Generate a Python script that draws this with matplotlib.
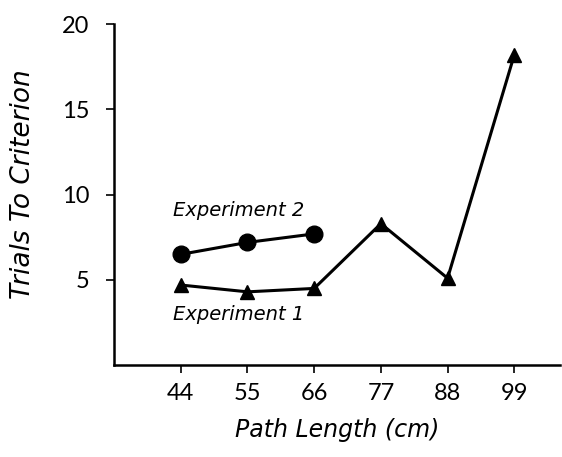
import matplotlib
matplotlib.use("Agg")
import matplotlib.pyplot as plt

path_length = [44, 55, 66, 77, 88, 99]
exp1_trials = [4.7, 4.3, 4.5, 8.3, 5.1, 18.2]
exp2_length = [44, 55, 66]
exp2_trials = [6.5, 7.2, 7.7]
y_ticks = [5, 10, 15, 20]

fig = plt.figure(figsize=(5.62, 4.57), dpi=100)
ax = fig.add_axes([0.203, 0.201, 0.793, 0.746])

ax.plot(path_length, exp1_trials, color="black", lw=2.2, marker="^", markersize=10)
ax.plot(exp2_length, exp2_trials, color="black", lw=2.2, marker="o", markersize=12)

ax.text(42.7, 9.1, "Experiment 2", fontsize=14, style="italic", ha="left", va="center")
ax.text(42.7, 3.0, "Experiment 1", fontsize=14, style="italic", ha="left", va="center")

ax.set_xlim(33, 106.5)
ax.set_ylim(0, 20)
ax.set_xticks(path_length)
ax.set_yticks(y_ticks)
ax.tick_params(direction="out", length=6, width=1.2, labelsize=17)
ax.tick_params(axis="y", pad=12)
ax.tick_params(axis="x", pad=7)
for lab in ax.get_xticklabels() + ax.get_yticklabels():
    lab.set_family("Lato")

for s in ["top", "right"]:
    ax.spines[s].set_visible(False)
for s in ["left", "bottom"]:
    ax.spines[s].set_linewidth(1.8)

ax.set_xlabel("Path Length (cm)", fontsize=17, style="italic", labelpad=10)
ax.set_ylabel("Trials To Criterion", fontsize=19, style="italic")
ax.yaxis.set_label_coords(-0.175, 0.53)

fig.savefig("out.png", dpi=100)
